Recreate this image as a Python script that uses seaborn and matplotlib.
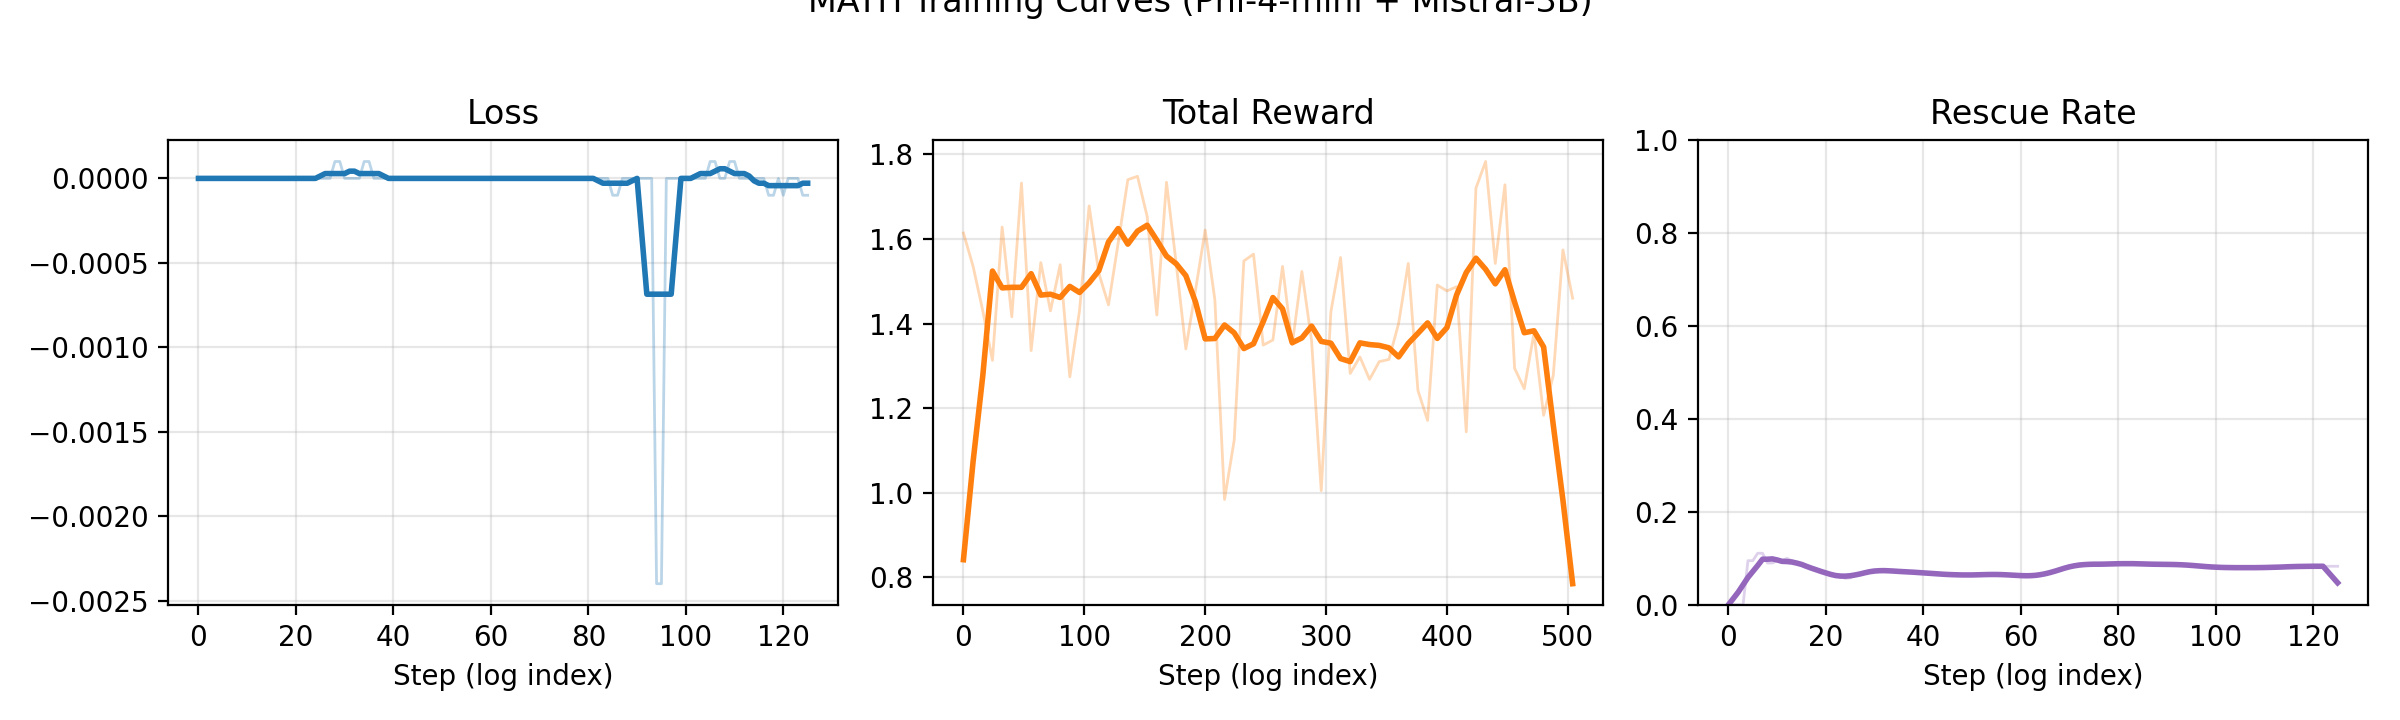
import numpy as np
import matplotlib
matplotlib.use("Agg")
import matplotlib.pyplot as plt
import seaborn as sns

# Raw per-log values
LOSS_RAW = [
    0, 0, 0, 0, 0, 0, 0, 0, 0, 0,
    0, 0, 0, 0, 0, 0, 0, 0, 0, 0,
    0, 0, 0, 0, 0, 0, 0, 0, 0.0001, 0.0001,
    0, 0, 0, 0, 0.0001, 0.0001, 0, 0, 0, 0,
    0, 0, 0, 0, 0, 0, 0, 0, 0, 0,
    0, 0, 0, 0, 0, 0, 0, 0, 0, 0,
    0, 0, 0, 0, 0, 0, 0, 0, 0, 0,
    0, 0, 0, 0, 0, 0, 0, 0, 0, 0,
    0, 0, 0, 0, 0, -0.0001, -0.0001, 0, 0, 0,
    0, 0, 0, 0, -0.0024, -0.0024, 0, 0, 0, 0,
    0, 0, 0, 0, 0, 0.0001, 0.0001, 0, 0, 0.0001,
    0.0001, 0, 0, 0, 0, 0, 0, -0.0001, -0.0001, 0,
    -0.0001, 0, 0, 0, -0.0001, -0.0001,
]

REWARD_RAW = [
    1.614, 1.535, 1.43, 1.313, 1.628, 1.416, 1.732, 1.336, 1.544, 1.43,
    1.539, 1.274, 1.43, 1.678, 1.519, 1.444, 1.59, 1.74, 1.748, 1.653,
    1.42, 1.734, 1.542, 1.34, 1.479, 1.621, 1.456, 0.984, 1.124, 1.548,
    1.564, 1.349, 1.361, 1.535, 1.35, 1.523, 1.36, 1.005, 1.428, 1.556,
    1.282, 1.321, 1.268, 1.31, 1.315, 1.40, 1.542, 1.242, 1.171, 1.491,
    1.477, 1.487, 1.144, 1.72, 1.783, 1.542, 1.728, 1.294, 1.246, 1.377,
    1.183, 1.278, 1.574, 1.46,
]

RESCUE_RAW = [
    0, 0, 0, 0, 0.095, 0.095, 0.111, 0.111, 0.09, 0.09,
    0.095, 0.095, 0.1, 0.095, 0.09, 0.087, 0.083, 0.079, 0.075, 0.071,
    0.068, 0.065, 0.062, 0.06, 0.057, 0.058, 0.063, 0.067, 0.071, 0.074,
    0.075, 0.075, 0.074, 0.073, 0.072, 0.072, 0.071, 0.071, 0.07, 0.07,
    0.069, 0.068, 0.067, 0.066, 0.066, 0.065, 0.065, 0.064, 0.064, 0.064,
    0.064, 0.064, 0.065, 0.065, 0.066, 0.066, 0.066, 0.065, 0.064, 0.063,
    0.062, 0.062, 0.062, 0.062, 0.063, 0.065, 0.068, 0.072, 0.076, 0.08,
    0.083, 0.086, 0.088, 0.088, 0.087, 0.087, 0.087, 0.087, 0.088, 0.088,
    0.089, 0.089, 0.089, 0.089, 0.088, 0.088, 0.088, 0.087, 0.087, 0.087,
    0.087, 0.087, 0.087, 0.087, 0.086, 0.085, 0.084, 0.083, 0.082, 0.081,
    0.081, 0.08, 0.08, 0.08, 0.08, 0.08, 0.08, 0.08, 0.08, 0.08,
    0.08, 0.08, 0.081, 0.081, 0.082, 0.082, 0.082, 0.083, 0.083, 0.083,
    0.083, 0.083, 0.083, 0.083, 0.083, 0.083,
]

LOSS_STEPS = list(range(len(LOSS_RAW)))
REWARD_STEPS = [8 * i for i in range(len(REWARD_RAW))]
RESCUE_STEPS = list(range(len(RESCUE_RAW)))

WINDOW = 7


def smooth(values, window=WINDOW):
    """Moving average (zero padded at the edges)."""
    return np.convolve(values, np.ones(window) / window, mode="same")


panels = [
    ("Loss", LOSS_STEPS, LOSS_RAW, "#1f77b4"),
    ("Total Reward", REWARD_STEPS, REWARD_RAW, "#ff7f0e"),
    ("Rescue Rate", RESCUE_STEPS, RESCUE_RAW, "#9467bd"),
]

fig, axes = plt.subplots(1, 3, figsize=(12, 3.6), dpi=200)
fig.subplots_adjust(left=0.07, right=0.9867, bottom=0.16, top=0.805, wspace=0.1416)

for ax, (title, steps, raw, color) in zip(axes, panels):
    sns.lineplot(x=steps, y=raw, ax=ax, color=color, alpha=0.3, linewidth=1)
    sns.lineplot(x=steps, y=smooth(raw), ax=ax, color=color, linewidth=2)
    ax.set_title(title)
    ax.set_xlabel("Step (log index)")
    ax.set_ylabel("")
    ax.grid(True, alpha=0.3)

axes[2].set_ylim(0, 1)

fig.suptitle("MATH Training Curves (Phi-4-mini + Mistral-3B)", fontsize=12, y=1.02)
fig.savefig("out.png", dpi=200)
